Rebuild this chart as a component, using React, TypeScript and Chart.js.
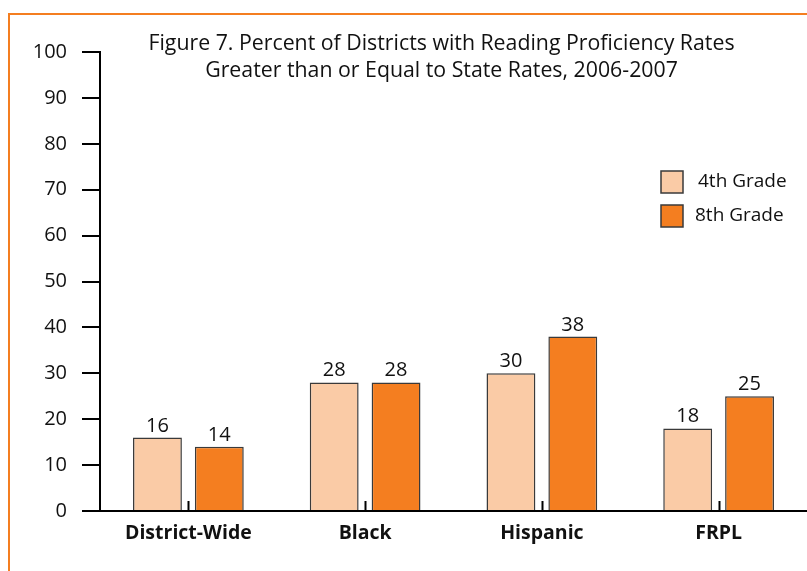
import { useEffect, useRef } from "react";
import { Chart, registerables } from "chart.js";
import type { ChartConfiguration, Plugin } from "chart.js";

Chart.register(...registerables);

const categories = ["District-Wide", "Black", "Hispanic", "FRPL"];
const grade4 = [16, 28, 30, 18];
const grade8 = [14, 28, 38, 25];
const seriesNames = ["4th Grade", "8th Grade"];
const titleLines = [
  "Figure 7. Percent of Districts with Reading Proficiency Rates",
  "Greater than or Equal to State Rates, 2006-2007",
];

const LIGHT = "#FACBA6";
const ORANGE = "#F47E20";
const EDGE = "#3a3a3a";
const FONT = "'Open Sans', sans-serif";

// draws the title, value labels, centre ticks and the legend box
const extras: Plugin<"bar"> = {
  id: "extras",
  afterDatasetsDraw(chart) {
    const { ctx, chartArea, scales } = chart;
    const x = scales.x;
    ctx.save();

    // short ticks at each category centre
    ctx.strokeStyle = "#000";
    ctx.lineWidth = 2;
    x.ticks.forEach((_t, i) => {
      const px = Math.round(x.getPixelForTick(i)) + 0.5;
      ctx.beginPath();
      ctx.moveTo(px, chartArea.bottom - 10);
      ctx.lineTo(px, chartArea.bottom);
      ctx.stroke();
    });

    // values above bars
    ctx.font = `20px ${FONT}`;
    ctx.fillStyle = "#111";
    ctx.textAlign = "center";
    ctx.textBaseline = "alphabetic";
    chart.data.datasets.forEach((ds, di) => {
      chart.getDatasetMeta(di).data.forEach((bar, i) => {
        ctx.fillText(String(ds.data[i]), bar.x, bar.y - 6);
      });
    });

    // legend
    const lx = chartArea.right - 146;
    const ly = chartArea.top + 119;
    ctx.font = `19px ${FONT}`;
    ctx.textAlign = "left";
    ctx.textBaseline = "middle";
    chart.data.datasets.forEach((ds, di) => {
      const top = ly + di * 34;
      ctx.fillStyle = ds.backgroundColor as string;
      ctx.fillRect(lx, top, 22, 22);
      ctx.strokeStyle = EDGE;
      ctx.lineWidth = 1.5;
      ctx.strokeRect(lx, top, 22, 22);
      ctx.fillStyle = "#111";
      ctx.fillText(String(ds.label), lx + 37 - di * 3, top + 11);
    });

    // title
    ctx.font = `21.3px ${FONT}`;
    ctx.textAlign = "center";
    ctx.textBaseline = "alphabetic";
    const cx = (chartArea.left + chartArea.right) / 2 - 12;
    titleLines.forEach((line, i) => {
      ctx.fillText(line, cx, 35 + i * 27);
    });

    ctx.restore();
  },
};

export default function App() {
  const canvasRef = useRef<HTMLCanvasElement>(null);

  useEffect(() => {
    if (!canvasRef.current) return;
    Chart.defaults.font.family = FONT;

    const config: ChartConfiguration<"bar"> = {
      type: "bar",
      data: {
        labels: categories,
        datasets: [
          {
            label: seriesNames[0],
            data: grade4,
            backgroundColor: LIGHT,
            borderColor: EDGE,
            borderWidth: 1.5,
            barPercentage: 0.79,
            categoryPercentage: 0.7,
          },
          {
            label: seriesNames[1],
            data: grade8,
            backgroundColor: ORANGE,
            borderColor: EDGE,
            borderWidth: 1.5,
            barPercentage: 0.79,
            categoryPercentage: 0.7,
          },
        ],
      },
      options: {
        responsive: true,
        maintainAspectRatio: false,
        animation: false,
        layout: { padding: { top: 37, right: 0, left: 0, bottom: 0 } },
        plugins: {
          legend: { display: false },
          title: { display: false },
          tooltip: { enabled: false },
        },
        scales: {
          x: {
            grid: { display: false, drawTicks: false },
            border: { display: true, color: "#000", width: 2 },
            ticks: {
              color: "#111",
              padding: 11,
              font: { size: 19.5, weight: "bold" },
            },
            afterFit: (s) => {
              s.height = 60;
            },
          },
          y: {
            min: 0,
            max: 100,
            ticks: {
              stepSize: 10,
              color: "#111",
              padding: 15,
              font: { size: 20 },
            },
            grid: {
              drawOnChartArea: false,
              drawTicks: true,
              tickLength: 18,
              lineWidth: 2,
              color: "#000",
            },
            border: { display: true, color: "#000", width: 2 },
            afterFit: (s) => {
              s.width = 90;
            },
          },
        },
      },
      plugins: [extras],
    };

    const chart = new Chart(canvasRef.current, config);
    return () => chart.destroy();
  }, []);

  return (
    <div
      style={{
        position: "absolute",
        left: 8,
        top: 13,
        width: 799,
        height: 558,
        boxSizing: "border-box",
        borderTop: `2px solid ${ORANGE}`,
        borderLeft: `2px solid ${ORANGE}`,
        background: "#fff",
      }}
    >
      <div style={{ position: "relative", width: 797, height: 556 }}>
        <canvas ref={canvasRef} />
      </div>
    </div>
  );
}
